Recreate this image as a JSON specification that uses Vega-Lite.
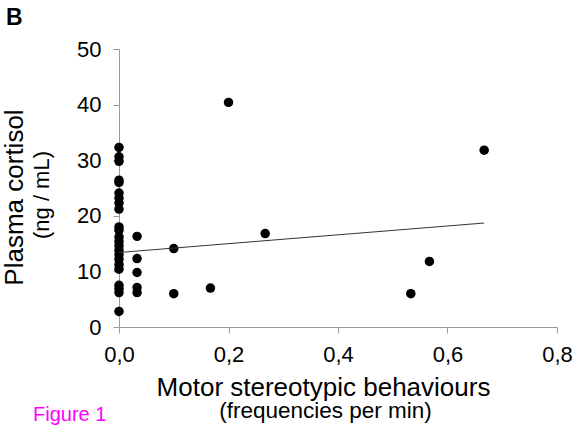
{
  "$schema": "https://vega.github.io/schema/vega-lite/v6.json",
  "padding": {"left": 0, "top": 7, "right": 0, "bottom": 0},
  "background": "white",
  "config": {
    "view": {"stroke": null},
    "font": "Liberation Sans",
    "axis": {"grid": false, "labelFlush": false, "domainColor": "#999999", "tickColor": "#999999", "labelColor": "#000000", "titleColor": "#000000", "labelFont": "Liberation Sans", "titleFont": "Liberation Sans", "titleFontWeight": "normal"}
  },
  "datasets": {
    "points": [
      {"freq": 0, "cortisol": 32.3},
      {"freq": 0, "cortisol": 30.6},
      {"freq": 0, "cortisol": 29.8},
      {"freq": 0, "cortisol": 26.4},
      {"freq": 0, "cortisol": 26.0},
      {"freq": 0, "cortisol": 24.1},
      {"freq": 0, "cortisol": 23.2},
      {"freq": 0, "cortisol": 22.3},
      {"freq": 0, "cortisol": 21.2},
      {"freq": 0, "cortisol": 18.0},
      {"freq": 0, "cortisol": 17.4},
      {"freq": 0, "cortisol": 16.2},
      {"freq": 0, "cortisol": 15.4},
      {"freq": 0, "cortisol": 14.6},
      {"freq": 0, "cortisol": 13.8},
      {"freq": 0, "cortisol": 13.0},
      {"freq": 0, "cortisol": 12.2},
      {"freq": 0, "cortisol": 11.2},
      {"freq": 0, "cortisol": 10.4},
      {"freq": 0, "cortisol": 7.5},
      {"freq": 0, "cortisol": 6.9},
      {"freq": 0, "cortisol": 6.2},
      {"freq": 0, "cortisol": 2.8},
      {"freq": 0.033, "cortisol": 16.3},
      {"freq": 0.033, "cortisol": 12.3},
      {"freq": 0.033, "cortisol": 9.8},
      {"freq": 0.033, "cortisol": 7.1},
      {"freq": 0.033, "cortisol": 6.2},
      {"freq": 0.1, "cortisol": 14.1},
      {"freq": 0.1, "cortisol": 6.0},
      {"freq": 0.167, "cortisol": 7.0},
      {"freq": 0.2, "cortisol": 40.4},
      {"freq": 0.267, "cortisol": 16.8},
      {"freq": 0.533, "cortisol": 6.0},
      {"freq": 0.567, "cortisol": 11.8},
      {"freq": 0.667, "cortisol": 31.8}
    ],
    "trend": [
      {"freq": 0, "cortisol": 13.4},
      {"freq": 0.667, "cortisol": 18.7}
    ]
  },
  "title": {
    "text": "Figure 1",
    "orient": "bottom",
    "anchor": "start",
    "frame": "group",
    "dx": -86,
    "offset": -1,
    "baseline": "alphabetic",
    "font": "Liberation Sans",
    "fontSize": 20,
    "fontWeight": "normal",
    "color": "#FF00FF"
  },
  "vconcat": [
    {
      "width": 438,
      "height": 278,
      "title": {
        "text": "B",
        "anchor": "start",
        "frame": "group",
        "dx": -113,
        "offset": -10,
        "baseline": "alphabetic",
        "font": "Liberation Sans",
        "fontSize": 23,
        "fontWeight": "bold",
        "color": "#000000"
      },
      "layer": [
        {
          "data": {"name": "points"},
          "mark": {"type": "circle", "size": 90, "color": "#000000", "opacity": 1},
          "encoding": {
            "x": {
              "field": "freq", "type": "quantitative",
              "scale": {"domain": [0, 0.8], "nice": false, "zero": true},
              "axis": {
                "orient": "bottom",
                "values": [0, 0.2, 0.4, 0.6, 0.8],
                "labelExpr": "replace(format(datum.value, '.1f'), '.', ',')",
                "labelFontSize": 22,
                "labelPadding": 11,
                "tickSize": 6,
                "title": "Motor stereotypic behaviours",
                "titleFontSize": 26,
                "titleX": 204,
                "titleY": 68,
                "titleAnchor": "middle",
                "titleAlign": "center",
                "titleBaseline": "alphabetic"
              }
            },
            "y": {
              "field": "cortisol", "type": "quantitative",
              "scale": {"domain": [0, 50], "nice": false},
              "axis": {
                "orient": "left",
                "values": [0, 10, 20, 30, 40, 50],
                "labelFontSize": 22,
                "labelPadding": 12,
                "tickSize": 6,
                "title": "Plasma cortisol",
                "titleFontSize": 26,
                "titleAngle": -90,
                "titleX": -97,
                "titleY": 148,
                "titleAlign": "center",
                "titleBaseline": "alphabetic"
              }
            }
          }
        },
        {
          "data": {"name": "trend"},
          "mark": {"type": "line", "color": "#333333", "strokeWidth": 1},
          "encoding": {
            "x": {
              "field": "freq", "type": "quantitative",
              "axis": {
                "orient": "bottom",
                "labels": false, "ticks": false, "domain": false,
                "title": "(frequencies per min)",
                "titleFontSize": 22.5,
                "titleX": 206,
                "titleY": 90,
                "titleAlign": "center",
                "titleBaseline": "alphabetic"
              }
            },
            "y": {
              "field": "cortisol", "type": "quantitative",
              "axis": {
                "orient": "left",
                "labels": false, "ticks": false, "domain": false,
                "title": "(ng / mL)",
                "titleFontSize": 22,
                "titleAngle": -90,
                "titleX": -71,
                "titleY": 145.5,
                "titleAlign": "center",
                "titleBaseline": "alphabetic"
              }
            }
          }
        }
      ],
      "resolve": {"axis": {"x": "independent", "y": "independent"}}
    }
  ]
}
